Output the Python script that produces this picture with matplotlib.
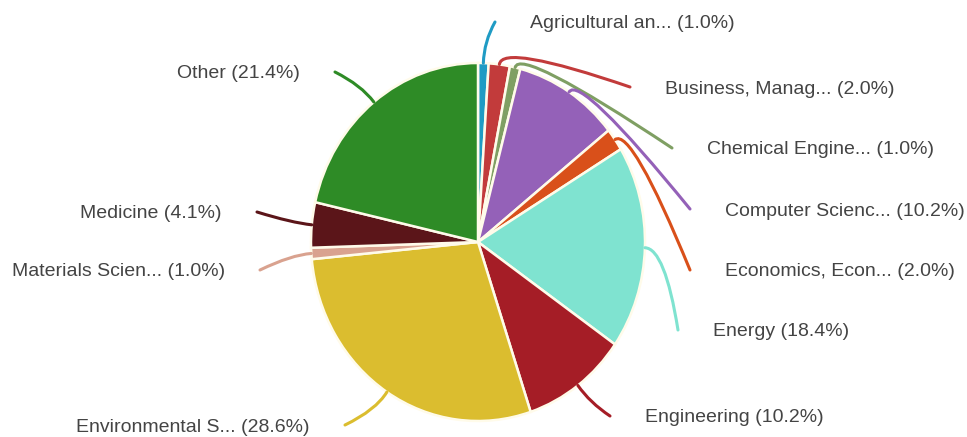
import numpy as np
import matplotlib
matplotlib.use("Agg")
import matplotlib.pyplot as plt
from matplotlib.path import Path
from matplotlib.patches import PathPatch

# ---- data ----
labels = ["Agricultural an...", "Business, Manag...", "Chemical Engine...",
          "Computer Scienc...", "Economics, Econ...", "Energy", "Engineering",
          "Environmental S...", "Materials Scien...", "Medicine", "Other"]
counts = [1, 2, 1, 10, 2, 18, 10, 28, 1, 4, 21]
colors = ["#1f9bc4", "#c23b3b", "#7f9f63", "#9461b8", "#d9501a", "#7fe3d0",
          "#a51d26", "#dbbd2f", "#d9a28f", "#5b1519", "#2e8b26"]

# label anchor positions (pixel layout) and side
label_pos = [(530, 22), (665, 87), (707, 148), (725, 209), (725, 270),
             (713, 330), (645, 416), (310, 425), (225, 270), (222, 212), (300, 72)]
label_side = ["L", "L", "L", "L", "L", "L", "L", "R", "R", "R", "R"]

W, H, DPI = 967, 437, 100
fig = plt.figure(figsize=(W / DPI, H / DPI), dpi=DPI)
fig.patch.set_facecolor("white")

# pie geometry (pixels)
cx, cy, rx, ry = 478, 242, 167, 179

ax_pie = fig.add_axes([(cx - rx) / W, 1 - (cy + ry) / H, 2 * rx / W, 2 * ry / H])
ax_pie.pie(counts, colors=colors, startangle=90, counterclock=False,
           wedgeprops=dict(edgecolor="#fffbea", linewidth=1.8))
ax_pie.set_xlim(-1, 1)
ax_pie.set_ylim(-1, 1)
ax_pie.set_aspect("auto")
ax_pie.axis("off")

# overlay in pixel coordinates
ov = fig.add_axes([0, 0, 1, 1], zorder=5)
ov.set_xlim(0, W)
ov.set_ylim(H, 0)
ov.axis("off")
ov.patch.set_alpha(0)

total = float(sum(counts))
cum = np.cumsum([0] + counts)
for i, (lab, c) in enumerate(zip(labels, counts)):
    frac = c / total
    mid = (cum[i] + cum[i + 1]) / 2 / total
    ang = np.deg2rad(90 - 360 * mid)
    sx = cx + rx * 1.0 * np.cos(ang)
    sy = cy - ry * 1.0 * np.sin(ang)
    ctrlx = cx + rx * 1.12 * np.cos(ang)
    ctrly = cy - ry * 1.12 * np.sin(ang)
    tx, ty = label_pos[i]
    if label_side[i] == "L":
        ex = tx - 35
        ha = "left"
    else:
        ex = tx + 35
        ha = "right"
    ey = ty
    path = Path([(sx, sy), (ctrlx, ctrly), (ex, ey)],
                [Path.MOVETO, Path.CURVE3, Path.CURVE3])
    ov.add_patch(PathPatch(path, facecolor="none", edgecolor=colors[i], lw=2.2,
                           capstyle="round"))
    ov.text(tx, ty + 2, f"{lab} ({100 * frac:.1f}%)", ha=ha, va="center",
            fontsize=14, color="#444444", family=["Liberation Sans", "DejaVu Sans"])

fig.savefig("out.png", dpi=DPI, facecolor="white")
